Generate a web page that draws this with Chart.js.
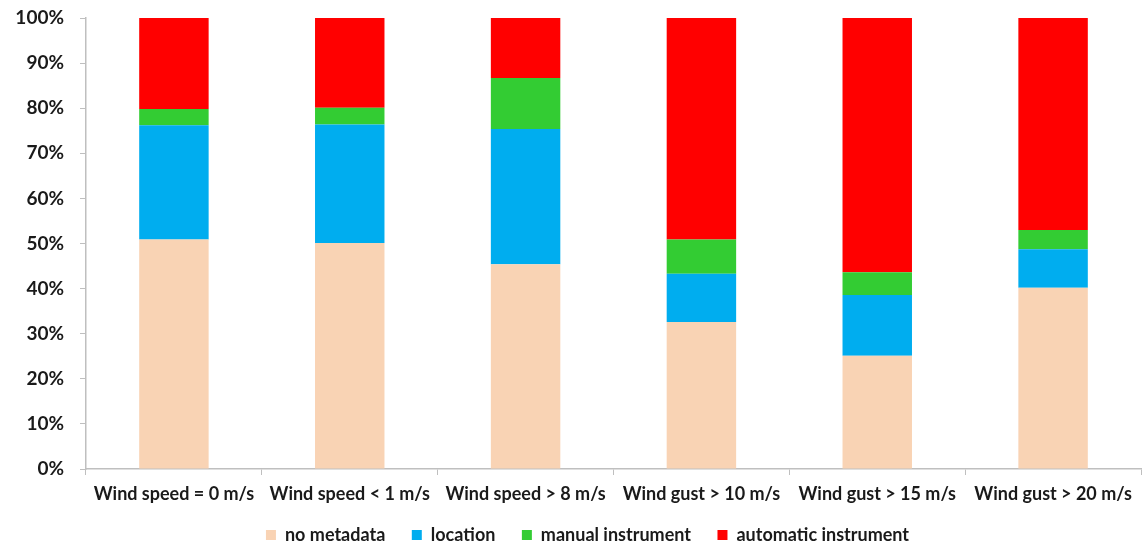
<!DOCTYPE html>
<html>
<head>
<meta charset="utf-8">
<script src="https://cdn.jsdelivr.net/npm/chart.js@4"></script>
<style>
  html, body { margin: 0; padding: 0; background: #fff; }
  #wrap { width: 1145px; height: 544px; }
</style>
</head>
<body>
<div id="wrap"><canvas id="myChart" width="1145" height="544"></canvas></div>
<script>
let categories = ['Wind speed = 0 m/s', 'Wind speed < 1 m/s', 'Wind speed > 8 m/s',
    'Wind gust > 10 m/s', 'Wind gust > 15 m/s', 'Wind gust > 20 m/s']

// percent shares, bottom to top
let noMetadata = [50.9, 50.1, 45.4, 32.6, 25.1, 40.2]
let location_ = [25.3, 26.3, 30.0, 10.7, 13.5, 8.5]
let manual = [3.6, 3.7, 11.3, 7.6, 5.0, 4.3]
let automatic = [20.2, 19.9, 13.3, 49.1, 56.4, 47.0]

let yTicks = [0, 10, 20, 30, 40, 50, 60, 70, 80, 90, 100]

const FONT = 'Lato, "DejaVu Sans", sans-serif'
const axisGray = '#bfbfbf'

let data = {
    labels: categories,
    datasets: [
        { label: 'no metadata', data: noMetadata, backgroundColor: '#f9d3b4' },
        { label: 'location', data: location_, backgroundColor: '#00adef' },
        { label: 'manual instrument', data: manual, backgroundColor: '#33cc33' },
        { label: 'automatic instrument', data: automatic, backgroundColor: '#ff0000' }
    ]
}
data.datasets.forEach(ds => {
    ds.barPercentage = 0.395
    ds.categoryPercentage = 1
    ds.borderWidth = 0
})

// legend in the original sits a little right of centre
const legendShift = {
    id: 'legendShift',
    afterLayout: chart => {
        chart.legend.left += 17
        chart.legend.right += 17
    }
}

let config = {
    type: 'bar',
    data,
    plugins: [legendShift],
    options: {
        responsive: false,
        animation: false,
        layout: { padding: { top: 18, right: 4, left: 0, bottom: -10 } },
        plugins: {
            tooltip: { enabled: false },
            legend: {
                position: 'bottom',
                labels: {
                    boxWidth: 10,
                    boxHeight: 10,
                    padding: 4,
                    color: '#1a1a1a',
                    font: { family: FONT, size: 18, weight: 'bold' },
                    // wider gaps between legend entries
                    generateLabels: chart => {
                        let items = Chart.defaults.plugins.legend.labels.generateLabels(chart)
                        items.forEach((it, i) => {
                            if (i < items.length - 1) it.text = it.text + '\u2003\u2002'
                        })
                        return items
                    }
                }
            }
        },
        scales: {
            x: {
                stacked: true,
                grid: { drawOnChartArea: false, tickLength: 6, color: axisGray, offset: true },
                border: { color: axisGray, width: 1.5 },
                ticks: {
                    color: '#1a1a1a',
                    maxRotation: 0,
                    padding: 8,
                    font: { family: FONT, size: 18, weight: 'bold' }
                },
                afterFit: s => { s.height = 53 }
            },
            y: {
                stacked: true,
                min: 0,
                max: 100,
                afterBuildTicks: s => { s.ticks = yTicks.map(v => ({ value: v })) },
                grid: { drawOnChartArea: false, tickLength: 6, color: axisGray },
                border: { color: axisGray, width: 1.5 },
                ticks: {
                    color: '#1a1a1a',
                    padding: 16,
                    font: { family: FONT, size: 19, weight: 'bold' },
                    callback: v => v + '%'
                },
                afterFit: s => {
                    s.width = 86
                    s.paddingTop = 0
                    s.paddingBottom = 0
                }
            }
        }
    }
}

let myChart = new Chart(document.getElementById('myChart'), config)
</script>
</body>
</html>
